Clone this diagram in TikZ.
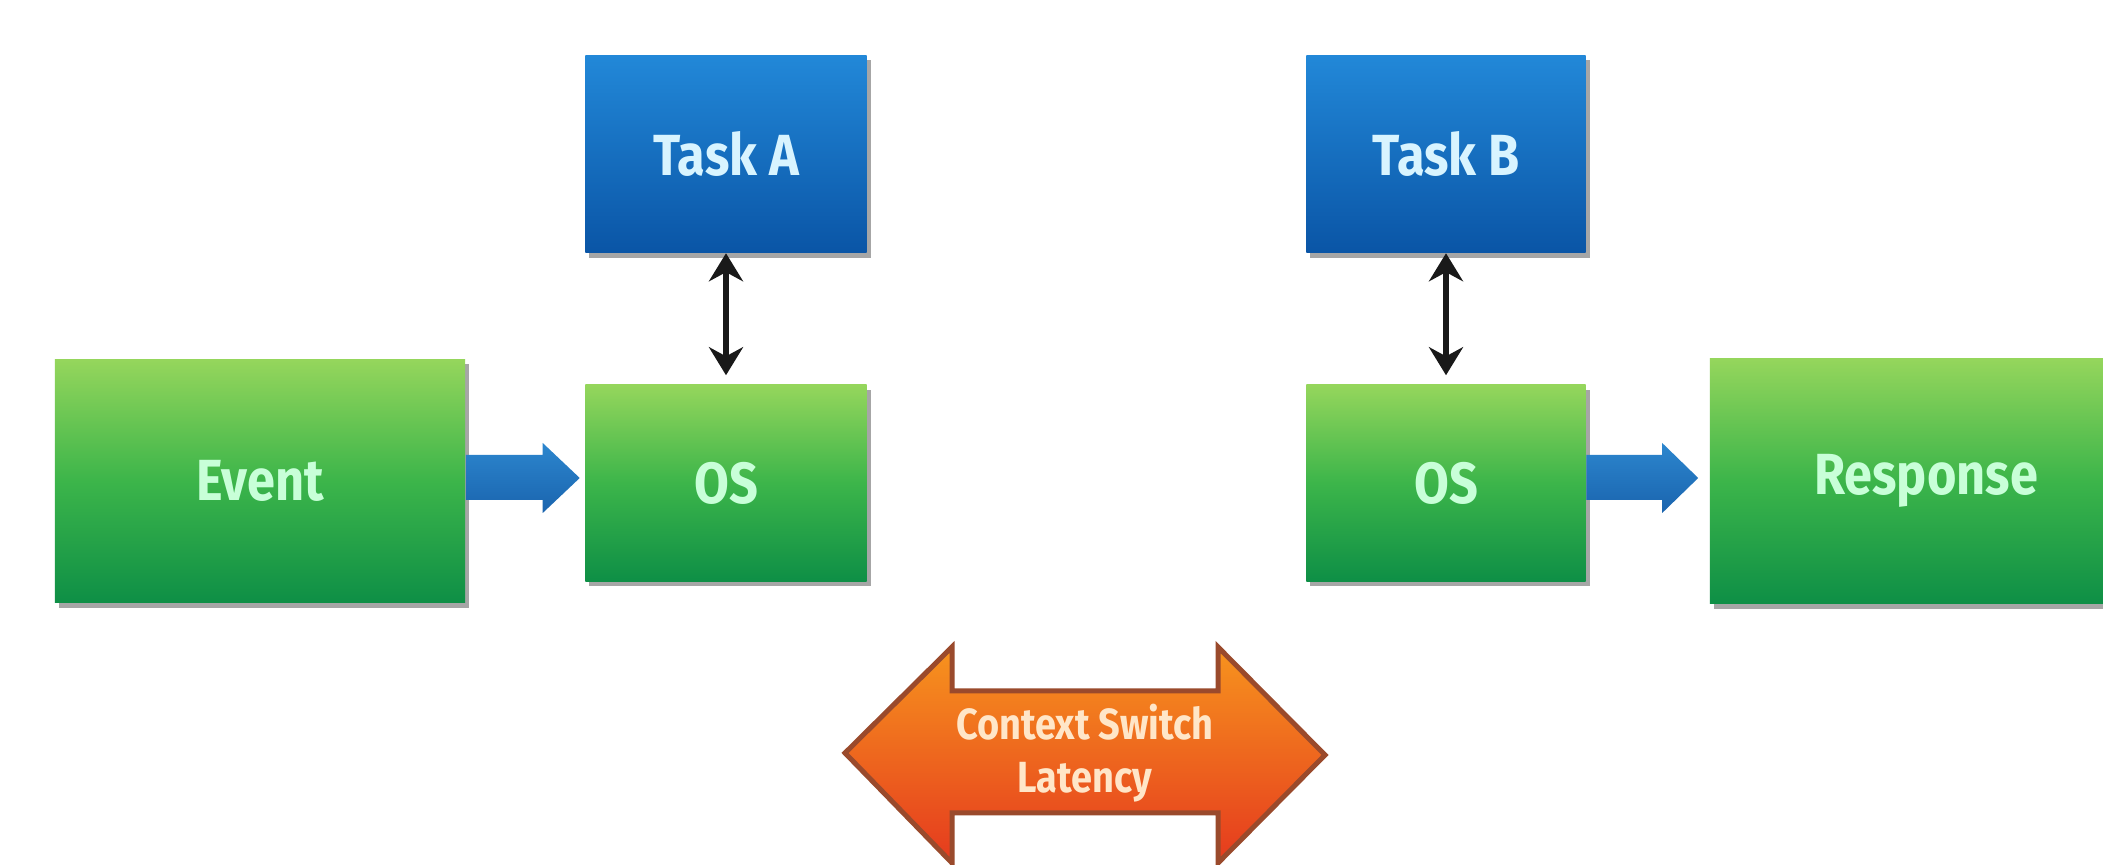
\documentclass[tikz,border=0pt]{standalone}
\usepackage{fontspec}
\setmainfont{Fira Sans}[FakeStretch=0.87]
\usetikzlibrary{calc,arrows.meta,shadows}
\definecolor{gtop}{HTML}{95D65C}
\definecolor{gmid}{HTML}{3CB54A}
\definecolor{gbot}{HTML}{0E8F46}
\definecolor{btop}{HTML}{2288D8}
\definecolor{bbot}{HTML}{0A55A6}
\definecolor{gtext}{HTML}{C8FFD8}
\definecolor{btext}{HTML}{D8F4FF}
\definecolor{arrblue}{HTML}{1A64AE}
\definecolor{arrbluetop}{HTML}{2C86CE}
\definecolor{otop}{HTML}{F7941E}
\definecolor{obot}{HTML}{E53A1E}
\definecolor{obrd}{HTML}{9A4A2C}
\definecolor{otext}{HTML}{FFE6C8}
\tikzset{
  box/.style={rectangle, inner sep=0pt, font=\fontsize{16.5}{19}\selectfont\bfseries,
    drop shadow={shadow xshift=0.04cm, shadow yshift=-0.05cm, opacity=0.35, fill=black}},
  greenbox/.style={box, top color=gtop, bottom color=gbot, middle color=gmid, text=gtext},
  bluebox/.style={box, top color=btop, bottom color=bbot, text=btext},
  dblarrow/.style={draw=black!90, line width=0.06cm, {Stealth[length=0.28cm,width=0.34cm]}-{Stealth[length=0.28cm,width=0.34cm]}},
  bluearrow/.style={top color=arrbluetop, bottom color=arrblue, draw=none},
  ctxarrow/.style={top color=otop, bottom color=obot, draw=obrd, line width=0.05cm, line join=miter},
  ctxtext/.style={text=otext, font=\fontsize{12.4}{15}\selectfont\bfseries, align=center, inner sep=0pt}
}
\begin{document}
\begin{tikzpicture}[x=0.01cm,y=-0.01cm]
\useasboundingbox[fill=white] (0,0) rectangle (2103,865);
% boxes
\node[greenbox, minimum width=4.10cm, minimum height=2.43cm] (ev) at (260,481) {Event};
\node[greenbox, minimum width=2.81cm, minimum height=1.96cm] (osa) at (726,483) {OS};
\node[bluebox, minimum width=2.81cm, minimum height=1.97cm] (ta) at (726,154) {Task A};
\node[bluebox, minimum width=2.79cm, minimum height=1.97cm] (tb) at (1446,154) {Task B};
\node[greenbox, minimum width=2.79cm, minimum height=1.96cm] (osb) at (1446,483) {OS};
\node[greenbox, minimum width=4.32cm, minimum height=2.45cm] (resp) at (1926,481) {Response};
% double arrows
\draw[dblarrow, shorten >=0.09cm] (ta.south) -- (osa.north);
\draw[dblarrow, shorten >=0.09cm] (tb.south) -- (osb.north);
% blue arrows
\path[bluearrow] ($(ev.east)+(0,-26)$) -- ($(osa.west)+(-42,-28)$) -- ($(osa.west)+(-42,-40)$)
  -- ($(osa.west)+(-5,-5)$) -- ($(osa.west)+(-42,30)$) -- ($(osa.west)+(-42,17)$)
  -- ($(ev.east)+(0,19)$) -- cycle;
\path[bluearrow] ($(osb.east)+(0,-28)$) -- ($(resp.west)+(-47,-26)$) -- ($(resp.west)+(-47,-38)$)
  -- ($(resp.west)+(-11,-3)$) -- ($(resp.west)+(-47,32)$) -- ($(resp.west)+(-47,19)$)
  -- ($(osb.east)+(0,17)$) -- cycle;
% context switch arrow
\coordinate (cc) at (1085,753);
\path[ctxarrow] ($(cc)+(-240,0)$) -- ($(cc)+(-133,-106)$) -- ($(cc)+(-133,-62)$)
  -- ($(cc)+(133,-62)$) -- ($(cc)+(133,-106)$) -- ($(cc)+(240,2)$)
  -- ($(cc)+(133,110)$) -- ($(cc)+(133,60)$) -- ($(cc)+(-133,60)$)
  -- ($(cc)+(-133,110)$) -- cycle;
\node[ctxtext] (ctx) at (cc) {Context Switch\\Latency};
\end{tikzpicture}
\end{document}
